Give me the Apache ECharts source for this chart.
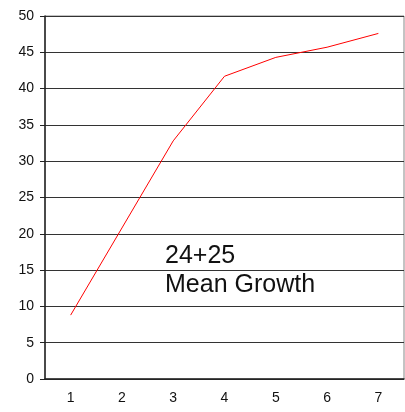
<!DOCTYPE html>
<html><head><meta charset="utf-8">
<script src="https://cdn.jsdelivr.net/npm/echarts@6/dist/echarts.min.js"></script>
<style>html,body{margin:0;padding:0;background:#fff}#c{width:405px;height:412px}</style>
</head><body><div id="c"></div>
<script>
const categories = ['1','2','3','4','5','6','7'];
const meanGrowth = [8.8, 20.8, 32.8, 41.7, 44.3, 45.7, 47.6];
const yMin = 0, yMax = 50, yStep = 5;
const labelLines = ['24+25', 'Mean Growth'];

const chart = echarts.init(document.getElementById('c'), null, {renderer:'canvas'});
const font = 'Liberation Sans, Arial, sans-serif';
chart.setOption({
  animation:false,
  grid:{left:45, right:1, top:16, bottom:33, show:true, borderColor:'#888', borderWidth:1, backgroundColor:'transparent'},
  xAxis:[{
    type:'category', data:categories, boundaryGap:true,
    axisLine:{lineStyle:{color:'#222', width:1.5}},
    axisTick:{alignWithLabel:true, length:4, lineStyle:{color:'#222'}},
    axisLabel:{color:'#111', fontSize:14, fontFamily:font, margin:12},
    splitLine:{show:false}
  },{
    type:'category', data:categories, boundaryGap:true, position:'bottom',
    axisLine:{show:false},
    axisTick:{inside:true, alignWithLabel:true, length:4, lineStyle:{color:'#222'}},
    axisLabel:{show:false}, splitLine:{show:false}
  }],
  yAxis:{
    type:'value', min:yMin, max:yMax, interval:yStep,
    axisLine:{show:true, lineStyle:{color:'#222', width:1.5}},
    axisTick:{show:true, length:5, lineStyle:{color:'#222'}},
    axisLabel:{color:'#111', fontSize:14, fontFamily:font, margin:11},
    splitLine:{show:true, lineStyle:{color:'#333', width:1}}
  },
  series:[{
    type:'line', data:meanGrowth, symbol:'none',
    lineStyle:{color:'#ff0000', width:1}
  }],
  graphic:labelLines.map((t,i)=>({
    type:'text', x:165, y:256 + i*29,
    style:{text:t, font:'25px '+font, fill:'#111', verticalAlign:'middle', align:'left'}
  }))
});
</script></body></html>
